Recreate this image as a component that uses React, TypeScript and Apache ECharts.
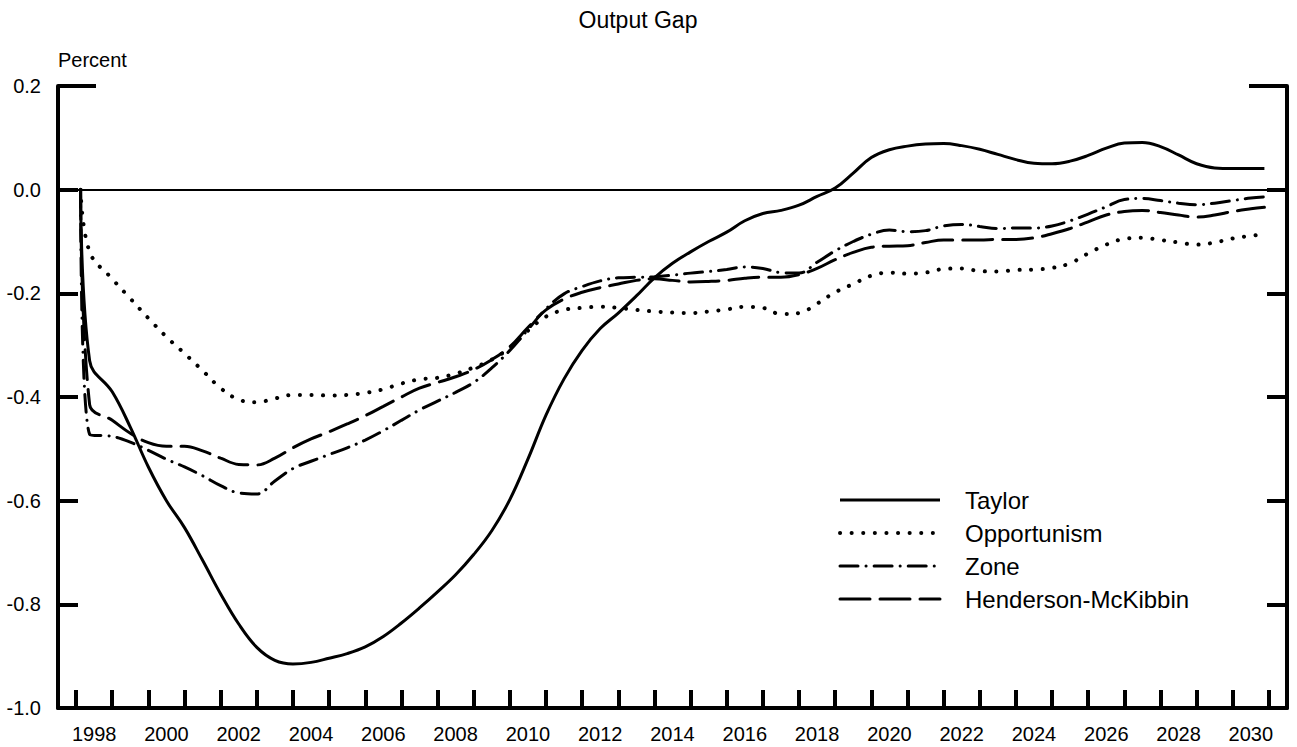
import React, { useEffect, useRef } from "react";
import * as echarts from "echarts";

const FONT = '"Liberation Sans", Arial, Helvetica, sans-serif';

// Sample dates (years, mid-quarter for the first two, then half-years)
const years = [
  1998.125, 1998.375,
  1999, 1999.5, 2000, 2000.5, 2001, 2001.5, 2002, 2002.5, 2003, 2003.5,
  2004, 2004.5, 2005, 2005.5, 2006, 2006.5, 2007, 2007.5, 2008, 2008.5,
  2009, 2009.5, 2010, 2010.5, 2011, 2011.5, 2012, 2012.5, 2013, 2013.5,
  2014, 2014.5, 2015, 2015.5, 2016, 2016.5, 2017, 2017.5, 2018, 2018.5,
  2019, 2019.5, 2020, 2020.5, 2021, 2021.5, 2022, 2022.5, 2023, 2023.5,
  2024, 2024.5, 2025, 2025.5, 2026, 2026.5, 2027, 2027.5, 2028, 2028.5,
  2029, 2029.5, 2030, 2030.5,
  2030.875,
];

const taylor = [
  0, -0.33,
  -0.39, -0.458, -0.535, -0.6, -0.652, -0.715, -0.78, -0.838, -0.883, -0.908,
  -0.915, -0.912, -0.904, -0.895, -0.882, -0.862, -0.836, -0.807, -0.776, -0.743,
  -0.704, -0.658, -0.598, -0.52, -0.435, -0.365, -0.31, -0.268, -0.238, -0.205,
  -0.17, -0.142, -0.12, -0.1, -0.082, -0.06, -0.046, -0.04, -0.03, -0.013,
  0.003, 0.032, 0.062, 0.077, 0.084, 0.088, 0.089, 0.085, 0.078, 0.068,
  0.058, 0.051, 0.05, 0.055, 0.066, 0.08, 0.09, 0.091, 0.083, 0.067,
  0.05, 0.042, 0.041, 0.041,
  0.041,
];

const opportunism = [
  0, -0.12,
  -0.172, -0.21, -0.248, -0.284, -0.316, -0.349, -0.383, -0.405, -0.41, -0.403,
  -0.396, -0.396, -0.397, -0.396, -0.392, -0.385, -0.374, -0.366, -0.363, -0.355,
  -0.343, -0.328, -0.305, -0.272, -0.245, -0.232, -0.228, -0.226, -0.228, -0.232,
  -0.235, -0.237, -0.238, -0.235, -0.231, -0.226, -0.228, -0.24, -0.238, -0.22,
  -0.198, -0.182, -0.166, -0.16, -0.162, -0.16, -0.153, -0.152, -0.157, -0.158,
  -0.155, -0.154, -0.151, -0.142, -0.123, -0.106, -0.095, -0.093, -0.097, -0.102,
  -0.106, -0.102, -0.094, -0.089,
  -0.086,
];

const zone = [
  0, -0.472,
  -0.476, -0.487, -0.503, -0.52, -0.535, -0.552, -0.571, -0.585, -0.587, -0.562,
  -0.538, -0.524, -0.511, -0.498, -0.483, -0.465, -0.445, -0.425, -0.408, -0.391,
  -0.372, -0.344, -0.31, -0.27, -0.23, -0.201, -0.187, -0.176, -0.17, -0.169,
  -0.168, -0.165, -0.161, -0.158, -0.154, -0.149, -0.152, -0.16, -0.161, -0.14,
  -0.118, -0.1, -0.086, -0.078, -0.081, -0.079, -0.07, -0.067, -0.071, -0.075,
  -0.074, -0.074, -0.07, -0.06, -0.047, -0.033, -0.019, -0.017, -0.021, -0.026,
  -0.029, -0.026, -0.021, -0.016,
  -0.014,
];

const hendersonMcKibbin = [
  0, -0.415,
  -0.445, -0.47, -0.488, -0.495, -0.495, -0.504, -0.518, -0.53, -0.531, -0.518,
  -0.498, -0.481, -0.467, -0.452, -0.436, -0.418, -0.4, -0.383, -0.372, -0.361,
  -0.347, -0.328, -0.303, -0.266, -0.232, -0.211, -0.198, -0.189, -0.182, -0.175,
  -0.172, -0.175, -0.178, -0.177, -0.175, -0.171, -0.169, -0.169, -0.164, -0.152,
  -0.135, -0.121, -0.111, -0.109, -0.108, -0.102, -0.097, -0.097, -0.097, -0.096,
  -0.096, -0.093, -0.085, -0.075, -0.062, -0.049, -0.042, -0.04, -0.044, -0.049,
  -0.053, -0.049, -0.042, -0.037,
  -0.034,
];

// Year boundary ticks and mid-year labels
const tickYears = [
  1998, 1999, 2000, 2001, 2002, 2003, 2004, 2005, 2006, 2007, 2008, 2009,
  2010, 2011, 2012, 2013, 2014, 2015, 2016, 2017, 2018, 2019, 2020, 2021,
  2022, 2023, 2024, 2025, 2026, 2027, 2028, 2029, 2030, 2031,
];
const labelYears = [
  1998.5, 2000.5, 2002.5, 2004.5, 2006.5, 2008.5, 2010.5, 2012.5, 2014.5,
  2016.5, 2018.5, 2020.5, 2022.5, 2024.5, 2026.5, 2028.5, 2030.5,
];
const topTick = [0.2];

const seriesNames = ["Taylor", "Opportunism", "Zone", "Henderson-McKibbin"];

export default function App() {
  const ref = useRef<HTMLDivElement>(null);

  useEffect(() => {
    if (!ref.current) return;
    const chart = echarts.init(ref.current, null, { renderer: "svg" });

    const pairs = (vals: number[]) => years.map((y, i) => [y, vals[i]]);
    const black = "#000";

    const styles: Record<string, any> = {
      Taylor: { color: black, width: 3, type: "solid" },
      Opportunism: { color: black, width: 4, type: [0.1, 11.5], cap: "round" },
      Zone: { color: black, width: 3, type: [18, 8, 0.1, 8], cap: "round" },
      "Henderson-McKibbin": { color: black, width: 3, type: [30, 10], cap: "round" },
    };

    const baseLine = {
      type: "line",
      symbol: "none",
      smooth: 0.4,
      itemStyle: { color: black },
      emphasis: { disabled: true },
    };

    const yBase = {
      type: "value",
      min: -1,
      max: 0.2,
      interval: 0.2,
      splitLine: { show: false },
    };

    const option = {
      animation: false,
      backgroundColor: "#fff",
      grid: { left: 58, right: 10, top: 86, bottom: 39, containLabel: false },
      graphic: [
        {
          type: "text",
          x: 638,
          y: 20,
          style: {
            text: "Output Gap",
            align: "center",
            verticalAlign: "middle",
            fill: black,
            font: `23px ${FONT}`,
          },
        },
        {
          type: "text",
          x: 58,
          y: 60,
          style: {
            text: "Percent",
            align: "left",
            verticalAlign: "middle",
            fill: black,
            font: `20px ${FONT}`,
          },
        },
      ],
      legend: {
        data: seriesNames.map((n) => ({
          name: n,
          lineStyle: { ...styles[n] },
          itemStyle: { opacity: 0, color: "transparent", borderWidth: 0 },
        })),
        orient: "vertical",
        left: 833,
        top: 483,
        itemWidth: 100,
        itemHeight: 24,
        itemGap: 9,
        selectedMode: false,
        itemStyle: { opacity: 0, color: "transparent", borderWidth: 0 },
        textStyle: {
          fontSize: 24,
          color: black,
          fontFamily: FONT,
          lineHeight: 24,
          padding: [0, 0, 0, 20],
        },
      },
      xAxis: {
        type: "value",
        min: 1997.5,
        max: 2031.5,
        splitLine: { show: false },
        axisLine: { show: true, onZero: false, lineStyle: { color: black, width: 4 } },
        axisTick: {
          show: true,
          inside: true,
          length: 18,
          customValues: tickYears,
          lineStyle: { color: black, width: 4 },
        },
        axisLabel: {
          customValues: labelYears,
          formatter: (v: number) => String(Math.floor(v)),
          fontSize: 20,
          fontFamily: FONT,
          color: black,
          margin: 16,
        },
      },
      yAxis: [
        {
          ...yBase,
          position: "left",
          axisLine: { show: true, onZero: false, lineStyle: { color: black, width: 4 } },
          axisTick: { show: true, inside: true, length: 20, lineStyle: { color: black, width: 4 } },
          axisLabel: {
            fontSize: 20,
            fontFamily: FONT,
            color: black,
            margin: 17,
            formatter: (v: number) => (Math.abs(v) < 1e-9 ? "0.0" : v.toFixed(1)),
          },
        },
        {
          ...yBase,
          position: "right",
          axisLine: { show: true, onZero: false, lineStyle: { color: black, width: 4 } },
          axisTick: { show: true, inside: true, length: 20, lineStyle: { color: black, width: 4 } },
          axisLabel: { show: false },
        },
        {
          ...yBase,
          position: "left",
          axisLine: { show: false, onZero: false },
          axisTick: { show: true, inside: true, length: 38, customValues: topTick, lineStyle: { color: black, width: 4 } },
          axisLabel: { show: false },
        },
        {
          ...yBase,
          position: "right",
          axisLine: { show: false, onZero: false },
          axisTick: { show: true, inside: true, length: 38, customValues: topTick, lineStyle: { color: black, width: 4 } },
          axisLabel: { show: false },
        },
      ],
      series: [
        {
          ...baseLine,
          name: "Taylor",
          data: pairs(taylor),
          z: 5,
          lineStyle: styles.Taylor,
          markLine: {
            silent: true,
            symbol: ["none", "none"],
            label: { show: false },
            lineStyle: { color: black, width: 2, type: "solid" },
            data: [{ yAxis: 0 }],
          },
        },
        {
          ...baseLine,
          name: "Opportunism",
          data: pairs(opportunism),
          lineStyle: styles.Opportunism,
        },
        {
          ...baseLine,
          name: "Zone",
          data: pairs(zone),
          lineStyle: styles.Zone,
        },
        {
          ...baseLine,
          name: "Henderson-McKibbin",
          data: pairs(hendersonMcKibbin),
          lineStyle: styles["Henderson-McKibbin"],
        },
      ],
    };

    chart.setOption(option as any);
    return () => chart.dispose();
  }, []);

  return (
    <div
      ref={ref}
      style={{ position: "fixed", left: 0, top: 0, width: 1297, height: 747, background: "#fff" }}
    />
  );
}
